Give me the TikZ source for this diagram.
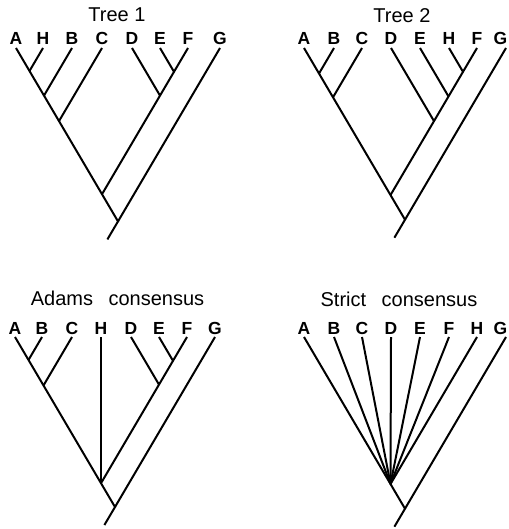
\documentclass[tikz,border=0pt]{standalone}
\usepackage{fontspec}
\setmainfont{Liberation Sans}
\begin{document}
\begin{tikzpicture}[x=1pt,y=-1pt,
  branch/.style={line width=2pt},
  taxon/.style={font=\bfseries\fontsize{17.5}{17.5}\selectfont, anchor=base, inner sep=0pt},
  heading/.style={font=\fontsize{20}{20}\selectfont, anchor=base, inner sep=0pt}]
\useasboundingbox (0,0) rectangle (508,529);

% ---------------- Tree 1 ----------------
\node[heading] (h1) at (117,22) {Tree 1};
\foreach \n/\x in {A/16,H/43,B/72,C/102,D/132,E/160,F/188,G/220} {
  \coordinate (a\n) at (\x,48);
  \node[taxon] (la\n) at (\x,45) {\n};
}
\coordinate (aAH)   at (29.5,71);
\coordinate (aAHB)  at (44,95.6);
\coordinate (aAHBC) at (59,121.1);
\coordinate (aEF)   at (174,71.8);
\coordinate (aDEF)  at (160,95.6);
\coordinate (aX)    at (102,194.2);
\coordinate (aR)    at (118,221.4);
\coordinate (aS)    at (107.4,239.4);
\draw[branch] (aA) -- (aAH) -- (aAHB) -- (aAHBC) -- (aX) -- (aR) -- (aS);
\draw[branch] (aH) -- (aAH);
\draw[branch] (aB) -- (aAHB);
\draw[branch] (aC) -- (aAHBC);
\draw[branch] (aD) -- (aDEF);
\draw[branch] (aE) -- (aEF);
\draw[branch] (aF) -- (aEF) -- (aDEF) -- (aX);
\draw[branch] (aG) -- (aR);

% ---------------- Tree 2 ----------------
\node[heading] (h2) at (402,23) {Tree 2};
\foreach \n/\x in {A/304,B/334,C/362,D/391,E/420,H/449,F/477} {
  \coordinate (b\n) at (\x,48);
  \node[taxon] (lb\n) at (\x,45) {\n};
}
\coordinate (bG) at (506,48);
\node[taxon] (lbG) at (500.5,45) {G};
\coordinate (bAB)   at (319,73.5);
\coordinate (bABC)  at (333,97.3);
\coordinate (bHF)   at (463,71.8);
\coordinate (bEHF)  at (448.5,96.45);
\coordinate (bDEHF) at (434,121.1);
\coordinate (bX)    at (390.5,195.05);
\coordinate (bR)    at (405,219.7);
\coordinate (bS)    at (394.4,237.7);
\draw[branch] (bA) -- (bAB) -- (bABC) -- (bX) -- (bR) -- (bS);
\draw[branch] (bB) -- (bAB);
\draw[branch] (bC) -- (bABC);
\draw[branch] (bD) -- (bDEHF);
\draw[branch] (bE) -- (bEHF);
\draw[branch] (bH) -- (bHF);
\draw[branch] (bF) -- (bHF) -- (bEHF) -- (bDEHF) -- (bX);
\draw[branch] (bG) -- (bR);

% ---------------- Adams consensus ----------------
\node[heading] (h3) at (117.5,305) {Adams\hspace{0.5em} consensus};
\foreach \n/\x in {A/15,B/42,C/72,H/101,D/131,E/159,F/187,G/215} {
  \coordinate (c\n) at (\x,337);
  \node[taxon] (lc\n) at (\x,334) {\n};
}
\coordinate (cAB)  at (28.5,359.95);
\coordinate (cABC) at (43.5,385.45);
\coordinate (cEF)  at (173,360.8);
\coordinate (cDEF) at (159,384.6);
\coordinate (cX)   at (101,483.2);
\coordinate (cR)   at (115,507);
\coordinate (cS)   at (104.4,525);
\draw[branch] (cA) -- (cAB) -- (cABC) -- (cX) -- (cR) -- (cS);
\draw[branch] (cB) -- (cAB);
\draw[branch] (cC) -- (cABC);
\draw[branch] (cH) -- (cX);
\draw[branch] (cD) -- (cDEF);
\draw[branch] (cE) -- (cEF);
\draw[branch] (cF) -- (cEF) -- (cDEF) -- (cX);
\draw[branch] (cG) -- (cR);

% ---------------- Strict consensus ----------------
\node[heading] (h4) at (399,306) {Strict\hspace{0.5em} consensus};
\foreach \n/\x in {A/304,B/334,C/362,D/391,E/420,F/449,H/477} {
  \coordinate (d\n) at (\x,337);
  \node[taxon] (ld\n) at (\x,334) {\n};
}
\coordinate (dG) at (506,337);
\node[taxon] (ldG) at (500.5,334) {G};
\coordinate (dX) at (390.5,484);
\coordinate (dR) at (405,508.7);
\coordinate (dS) at (394.4,526.7);
\draw[branch] (dA) -- (dX) -- (dR) -- (dS);
\foreach \n in {B,C,D,E,F,H} {
  \draw[branch] (d\n) -- (dX);
}
\draw[branch] (dG) -- (dR);
\end{tikzpicture}
\end{document}
